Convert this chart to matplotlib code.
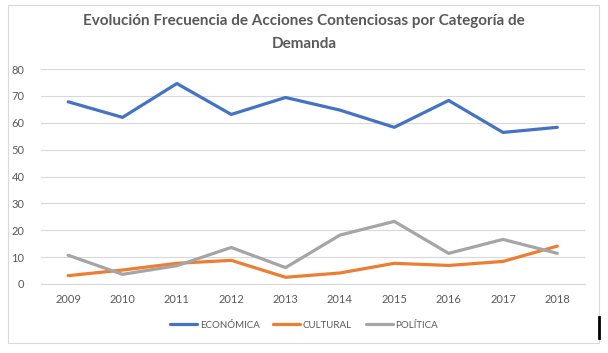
import matplotlib
matplotlib.use("Agg")
import matplotlib.pyplot as plt
from matplotlib.patches import Rectangle
from matplotlib.lines import Line2D

years = [2009, 2010, 2011, 2012, 2013, 2014, 2015, 2016, 2017, 2018]
economica = [67.8, 62.0, 74.6, 63.1, 69.4, 64.7, 58.3, 68.3, 56.4, 58.3]
cultural = [3.1, 5.2, 7.7, 8.8, 2.5, 4.1, 7.7, 6.9, 8.4, 14.1]
politica = [10.7, 3.6, 6.8, 13.6, 6.1, 18.2, 23.3, 11.4, 16.6, 11.4]
labels = ["ECONÓMICA", "CULTURAL", "POLÍTICA"]
colors = ["#4472C4", "#ED7D31", "#A5A5A5"]

plt.rcParams["font.family"] = ["Lato", "DejaVu Sans"]
txt = "#595959"

fig = plt.figure(figsize=(6.08, 3.53), dpi=100)
# chart border
fig.patches.append(Rectangle((8 / 608, 1 - 343 / 353), 591 / 608, 338 / 353,
                             transform=fig.transFigure, fill=False,
                             edgecolor="#D9D9D9", linewidth=0.8))
fig.lines.append(Line2D([599 / 608, 599 / 608], [1 - 338 / 353, 1 - 317 / 353],
                        transform=fig.transFigure, color="black", linewidth=2))

ax = fig.add_axes([41 / 608, 1 - 284 / 353, 543.5 / 608, 215 / 353])
for vals, lab, c in zip([economica, cultural, politica], labels, colors):
    ax.plot(years, vals, color=c, linewidth=2.3, label=lab, solid_capstyle="round")

ax.set_xlim(2008.5, 2018.5)
ax.set_ylim(0, 80)
ax.set_yticks(range(0, 81, 10))
ax.set_xticks(years)
ax.grid(axis="y", color="#D9D9D9", linewidth=0.8)
ax.set_axisbelow(True)
for s in ["top", "right", "left"]:
    ax.spines[s].set_visible(False)
ax.spines["bottom"].set_color("#D9D9D9")
ax.tick_params(length=0, colors=txt, labelsize=8)
ax.tick_params(axis="y", pad=12)
ax.tick_params(axis="x", pad=7)

fig.text(0.5, 1 - 14 / 353, "Evolución Frecuencia de Acciones Contenciosas por Categoría de\nDemanda",
         ha="center", va="top", fontsize=11, fontweight="bold", color=txt,
         linespacing=1.85)

fig.legend(loc="center", bbox_to_anchor=(0.5, 1 - 325 / 353), ncol=3, frameon=False,
           fontsize=7, labelcolor=txt, handlelength=2.8, columnspacing=1.4,
           handletextpad=0.25)

fig.savefig("out.png", dpi=100)
